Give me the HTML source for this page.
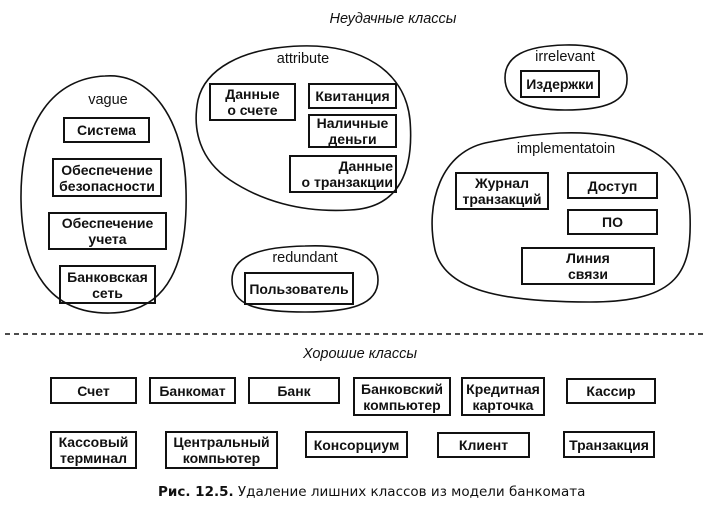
<!DOCTYPE html>
<html><head><meta charset="utf-8"><style>
body{margin:0;width:704px;height:505px;background:#fff;position:relative;overflow:hidden;font-family:"Liberation Sans",sans-serif;}
.b{position:absolute;border:2px solid #111;box-sizing:border-box;display:flex;align-items:center;justify-content:center;text-align:center;font-weight:bold;font-size:14px;line-height:16px;color:#111;}
.l{position:absolute;font-size:14.5px;color:#111;transform:translateX(-50%);white-space:nowrap;}
.t{position:absolute;font-size:14.5px;font-style:italic;color:#111;transform:translateX(-50%);white-space:nowrap;}
svg{position:absolute;left:0;top:0;}
</style></head><body>
<svg width="704" height="505" fill="none" stroke="#111" stroke-width="1.6">
<path d="M105,76 C150,72 185,120 186,190 C188,260 170,312 110,313 C50,314 22,270 21,200 C20,120 55,78 105,76Z"/>
<path d="M300,46 C360,44 405,70 410,120 C414,170 400,208 350,210 C300,213 260,200 230,180 C200,160 192,130 198,100 C205,70 240,48 300,46Z"/>
<path d="M305,246 C350,244 378,255 378,280 C378,305 350,312 305,312 C255,312 232,305 232,280 C232,258 255,247 305,246Z"/>
<path d="M565,45 C605,44 628,58 627,80 C627,102 605,110 565,110 C525,110 505,100 505,78 C505,56 525,46 565,45Z"/>
<path d="M560,133 C640,130 688,160 690,215 C692,270 680,302 590,302 C500,302 445,290 435,250 C425,205 440,150 490,142 C520,136 540,134 560,133Z"/>
<line x1="5" y1="334" x2="704" y2="334" stroke-dasharray="5,4" stroke-width="1.5"/>
</svg>
<div class="t" style="left:393px;top:11px">Неудачные классы</div>
<div class="l" style="left:108px;top:92px">vague</div>
<div class="l" style="left:303px;top:51px">attribute</div>
<div class="l" style="left:305px;top:250px">redundant</div>
<div class="l" style="left:565px;top:49px">irrelevant</div>
<div class="l" style="left:566px;top:141px">implementatoin</div>

<div class="b" style="left:63px;top:117px;width:87px;height:26px">Система</div>
<div class="b" style="left:52px;top:158px;width:110px;height:39px">Обеспечение<br>безопасности</div>
<div class="b" style="left:48px;top:212px;width:119px;height:38px">Обеспечение<br>учета</div>
<div class="b" style="left:59px;top:265px;width:97px;height:39px">Банковская<br>сеть</div>

<div class="b" style="left:209px;top:83px;width:87px;height:38px">Данные<br>о счете</div>
<div class="b" style="left:308px;top:83px;width:89px;height:26px">Квитанция</div>
<div class="b" style="left:308px;top:114px;width:89px;height:34px">Наличные<br>деньги</div>
<div class="b" style="left:289px;top:155px;width:108px;height:38px;justify-content:flex-end;text-align:right;padding-right:2px">Данные<br>о транзакции</div>

<div class="b" style="left:244px;top:272px;width:110px;height:33px">Пользователь</div>
<div class="b" style="left:520px;top:70px;width:80px;height:28px">Издержки</div>

<div class="b" style="left:455px;top:172px;width:94px;height:38px">Журнал<br>транзакций</div>
<div class="b" style="left:567px;top:172px;width:91px;height:27px">Доступ</div>
<div class="b" style="left:567px;top:209px;width:91px;height:26px">ПО</div>
<div class="b" style="left:521px;top:247px;width:134px;height:38px">Линия<br>связи</div>

<div class="t" style="left:360px;top:346px">Хорошие классы</div>

<div class="b" style="left:50px;top:377px;width:87px;height:27px">Счет</div>
<div class="b" style="left:149px;top:377px;width:87px;height:27px">Банкомат</div>
<div class="b" style="left:248px;top:377px;width:92px;height:27px">Банк</div>
<div class="b" style="left:353px;top:377px;width:98px;height:39px">Банковский<br>компьютер</div>
<div class="b" style="left:461px;top:377px;width:84px;height:39px">Кредитная<br>карточка</div>
<div class="b" style="left:566px;top:378px;width:90px;height:26px">Кассир</div>

<div class="b" style="left:50px;top:431px;width:87px;height:38px">Кассовый<br>терминал</div>
<div class="b" style="left:165px;top:431px;width:113px;height:38px">Центральный<br>компьютер</div>
<div class="b" style="left:305px;top:431px;width:103px;height:27px">Консорциум</div>
<div class="b" style="left:437px;top:432px;width:93px;height:26px">Клиент</div>
<div class="b" style="left:563px;top:431px;width:92px;height:27px">Транзакция</div>

<div style="position:absolute;left:158px;top:484px;font-family:'DejaVu Sans',sans-serif;font-size:13.5px;color:#111;white-space:nowrap"><b>Рис. 12.5.</b> Удаление лишних классов из модели банкомата</div>
</body></html>
